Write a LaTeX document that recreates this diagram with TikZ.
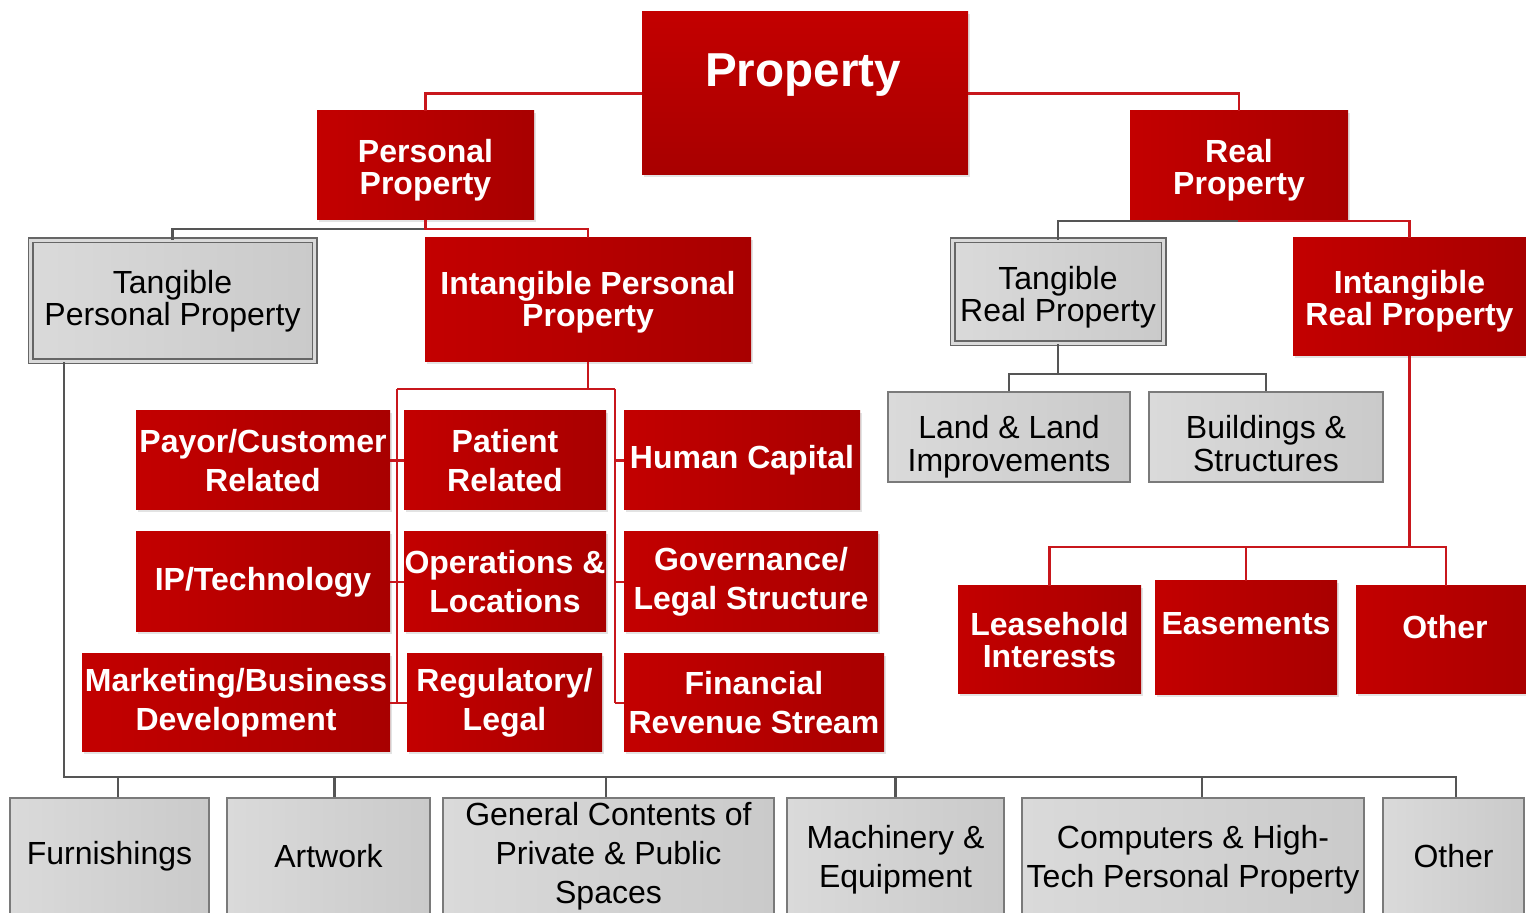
\documentclass[tikz,border=0pt]{standalone}
\usepackage{fontspec}
\setmainfont{Liberation Sans}
\usetikzlibrary{shadows}
\definecolor{rA}{HTML}{C30000}
\definecolor{rB}{HTML}{A80000}
\definecolor{gA}{HTML}{DADADA}
\definecolor{gB}{HTML}{CACACA}
\definecolor{gEdge}{HTML}{7A7A7A}
\definecolor{gDbl}{HTML}{666666}
\definecolor{gLine}{HTML}{555555}
\definecolor{rLine}{HTML}{C8171C}
\tikzset{
  redbox/.style={rectangle, left color=rA, right color=rB, draw=none, text=white,
    align=center, inner sep=0pt,
    drop shadow={opacity=0.18, shadow xshift=1.2pt, shadow yshift=-1.2pt, fill=black!60},
    font=\bfseries\fontsize{16}{16}\selectfont},
  gridbox/.style={redbox, font=\bfseries\fontsize{16}{19.5}\selectfont},
  greybox/.style={rectangle, left color=gA, right color=gB, draw=gEdge, line width=0.8pt,
    text=black, align=center, inner sep=0pt, font=\fontsize{16}{16.5}\selectfont},
  leafbox/.style={greybox, font=\fontsize{16}{19.5}\selectfont},
  dblbox/.style={greybox, draw=gDbl, line width=0.7pt, double=gA, double distance=1.6pt,
    font=\fontsize{16}{16}\selectfont},
  wlabel/.style={text=white, inner sep=0pt, align=center, font=\bfseries\fontsize{16}{16}\selectfont},
  klabel/.style={text=black, inner sep=0pt, align=center, font=\fontsize{16}{16}\selectfont},
  redline/.style={draw=rLine, line width=1.4pt},
  greyline/.style={draw=gLine, line width=1.4pt},
}
\begin{document}
\begin{tikzpicture}[x=0.5pt, y=-0.5pt]
\useasboundingbox (0,0) rectangle (1526,913);
\fill[white] (0,0) rectangle (1526,913);
\clip (0,0) rectangle (1526,913);

% ---- level 0/1
\node[redbox, top color=rA, bottom color=rB, minimum width=163pt, minimum height=81.5pt] (prop) at (805,93.5) {};
\node[wlabel, font=\bfseries\fontsize{23.8}{23.8}\selectfont] (propT) at (803,75) {Property};
\node[redbox, minimum width=108.5pt, minimum height=54.5pt] (pp) at (425.5,165.5) {};
\node[wlabel] (ppT) at ([yshift=-2.5pt]pp.center) {Personal\\Property};
\node[redbox, minimum width=109pt, minimum height=54.5pt] (rp) at (1239,165.5) {};
\node[wlabel] (rpT) at ([yshift=-2.5pt]rp.center) {Real\\Property};

% ---- level 2
\node[dblbox, minimum width=142pt, minimum height=60.5pt] (tpp) at (172.5,301) {Tangible\\Personal Property};
\node[redbox, minimum width=163pt, minimum height=62pt] (ipp) at (588,300) {};
\node[wlabel] (ippT) at ([yshift=-1pt]ipp.center) {Intangible Personal\\Property};
\node[dblbox, minimum width=105.5pt, minimum height=51.5pt] (trp) at (1058,292) {};
\node[klabel] (trpT) at ([yshift=-2.5pt]trp.center) {Tangible\\Real Property};
\node[redbox, minimum width=116.5pt, minimum height=59pt] (irp) at (1409.5,297) {};
\node[wlabel] (irpT) at ([yshift=-2pt]irp.center) {Intangible\\Real Property};

% ---- tangible real children
\node[greybox, minimum width=121pt, minimum height=45pt] (land) at (1009,437) {};
\node[klabel, font=\fontsize{16}{16.5}\selectfont] (landT) at ([yshift=-5pt]land.center) {Land \& Land\\Improvements};
\node[greybox, minimum width=117pt, minimum height=45pt] (build) at (1266,437) {};
\node[klabel, font=\fontsize{16}{16.5}\selectfont] (buildT) at ([yshift=-3.5pt]build.center) {Buildings \&\\Structures};

% ---- intangible personal children
\node[gridbox, minimum width=127pt, minimum height=49.5pt] (payor) at (263,460.5) {Payor/Customer\\Related};
\node[gridbox, minimum width=101pt, minimum height=49.5pt] (patient) at (505,460.5) {Patient\\Related};
\node[gridbox, minimum width=118pt, minimum height=49.5pt] (hc) at (742,460.5) {Human Capital};
\node[gridbox, minimum width=127pt, minimum height=50pt] (ip) at (263,582) {IP/Technology};
\node[gridbox, minimum width=101pt, minimum height=50pt] (ops) at (505,582) {Operations \&\\Locations};
\node[gridbox, minimum width=127pt, minimum height=50pt] (gov) at (751,582) {Governance/\\Legal Structure};
\node[gridbox, minimum width=154pt, minimum height=49pt] (mkt) at (236,703) {Marketing/Business\\Development};
\node[gridbox, minimum width=97.5pt, minimum height=49pt] (reg) at (504.5,703) {Regulatory/\\Legal};
\node[gridbox, minimum width=130pt, minimum height=49pt] (fin) at (754,703) {Financial\\Revenue Stream};

% ---- intangible real children
\node[redbox, minimum width=91.5pt, minimum height=54pt] (lease) at (1049.5,640) {Leasehold\\Interests};
\node[redbox, minimum width=91pt, minimum height=57pt] (ease) at (1246,638) {};
\node[wlabel] (easeT) at (1246,624) {Easements};
\node[redbox, minimum width=90pt, minimum height=54pt] (oth2) at (1446,640) {};
\node[wlabel] (oth2T) at (1445,627) {Other};

% ---- tangible personal children
\node[leafbox, minimum width=99.5pt, minimum height=58pt] (furn) at (109.5,856) {Furnishings};
\node[leafbox, minimum width=101.5pt, minimum height=58pt] (art) at (328.5,856) {Artwork};
\node[leafbox, minimum width=165.5pt, minimum height=58pt] (gen) at (608.5,856) {General Contents of\\Private \& Public\\Spaces};
\node[leafbox, minimum width=108.5pt, minimum height=58pt] (mach) at (895.5,856) {};
\node[klabel, font=\fontsize{16}{19.5}\selectfont] (machT) at ([yshift=-2pt]mach.center) {Machinery \&\\Equipment};
\node[leafbox, minimum width=171pt, minimum height=58pt] (comp) at (1193,856) {};
\node[klabel, font=\fontsize{16}{19.5}\selectfont] (compT) at ([yshift=-2pt]comp.center) {Computers \& High-\\Tech Personal Property};
\node[leafbox, minimum width=70.5pt, minimum height=58pt] (oth1) at (1453.5,856) {Other};

% ---- connectors
\draw[redline] (prop.west) -| (pp.north);
\draw[redline] (prop.east) -| (rp.north);

\coordinate (ppbus) at (425.5,229);
\draw[greyline] (ppbus) -| (tpp.north);
\draw[redline] (pp.south) -- (ppbus) -| (ipp.north);

\coordinate (rpbus) at (1239,221);
\draw[greyline] (rpbus) -| (trp.north);
\draw[redline] (rp.south) -- (rpbus) -| (irp.north);

\coordinate (trpbus) at (1058,374);
\draw[greyline] (trp.south) -- (trpbus);
\draw[greyline] (trpbus) -| (land.north);
\draw[greyline] (trpbus) -| (build.north);

\coordinate (lb) at (397,389);
\coordinate (rb) at (615,389);
\draw[redline] (ipp.south) -- (ipp.south |- lb);
\draw[redline] (lb) -- (rb);
\draw[redline] (lb) -- (lb |- mkt);
\draw[redline] (rb) -- (rb |- fin);
\draw[redline] (payor.east) -- (patient.west);
\draw[redline] (ip.east) -- (ops.west);
\draw[redline] (mkt.east) -- (reg.west);
\draw[redline] (rb |- hc) -- (hc.west);
\draw[redline] (rb |- gov) -- (gov.west);
\draw[redline] (rb |- fin) -- (fin.west);

\coordinate (irpbus) at (1409.5,547);
\draw[redline] (irp.south) -- (irpbus);
\draw[redline] (irpbus) -| (lease.north);
\draw[redline] (irpbus) -| (ease.north);
\draw[redline] (irpbus) -| (oth2.north);

\coordinate (tb) at (64,777);
\draw[greyline] (tpp.south -| tb) -- (tb) -| ([xshift=1.25pt]oth1.north);
\draw[greyline] (tb) -| ([xshift=4.25pt]furn.north);
\draw[greyline] (tb) -| ([xshift=3pt]art.north);
\draw[greyline] (tb) -| ([xshift=-1.25pt]gen.north);
\draw[greyline] (tb) -| (mach.north);
\draw[greyline] (tb) -| ([xshift=4.5pt]comp.north);
\end{tikzpicture}
\end{document}
